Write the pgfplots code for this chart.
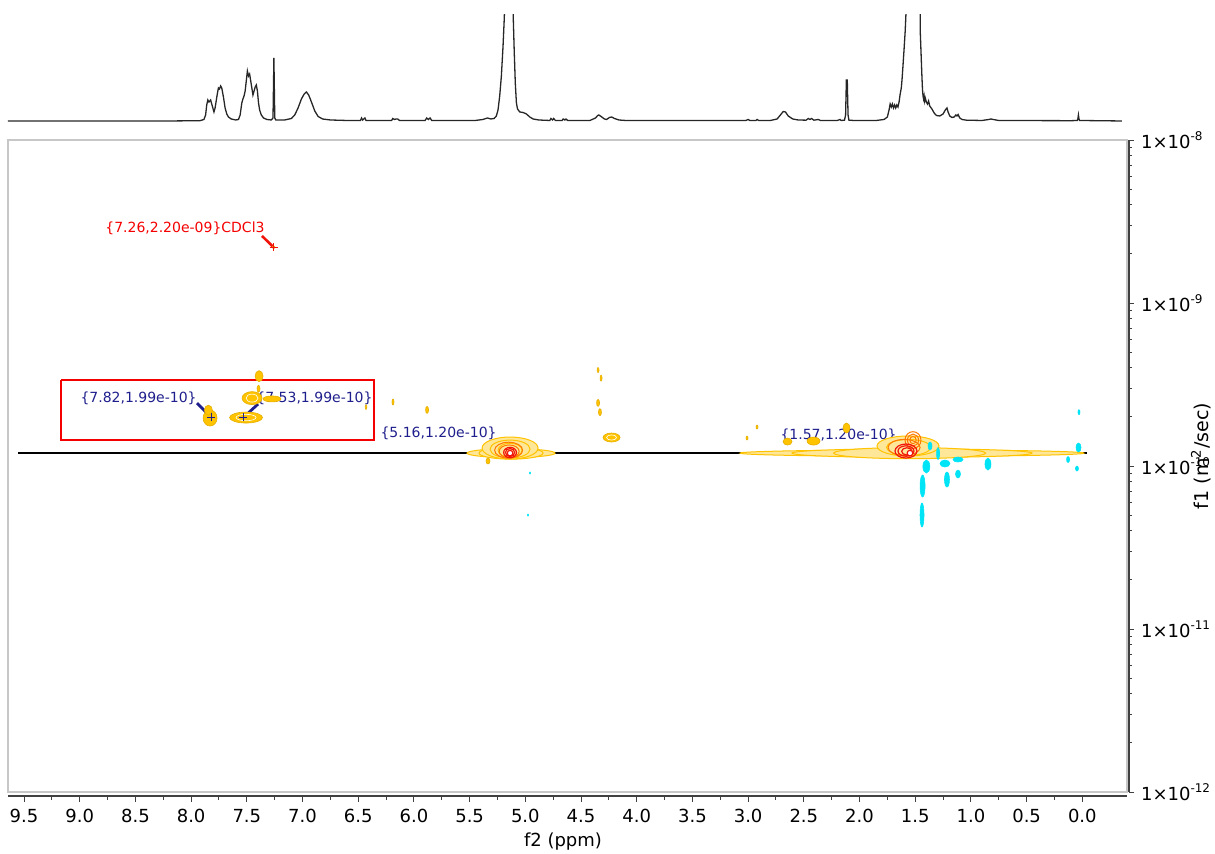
\documentclass[border=0pt]{standalone}
\usepackage{pgfplots}
\pgfplotsset{compat=1.18}
\usepackage{pgfplotstable}
\usepackage{fontspec}
\setmainfont{DejaVu Sans}
\definecolor{gold}{RGB}{255,195,0}
\definecolor{dorange}{RGB}{255,120,0}
\definecolor{dred}{RGB}{240,20,10}
\definecolor{aqua}{RGB}{0,228,245}
\definecolor{navyt}{RGB}{30,30,140}
\definecolor{boxred}{RGB}{245,0,0}

\pgfdeclareplotmark{ellf}{%
  \pgfpathellipse{\pgfpointorigin}{\pgfpoint{\myrx pt}{0pt}}{\pgfpoint{0pt}{\myry pt}}%
  \pgfusepathqfillstroke}
\pgfdeclareplotmark{ello}{%
  \pgfpathellipse{\pgfpointorigin}{\pgfpoint{\myrx pt}{0pt}}{\pgfpoint{0pt}{\myry pt}}%
  \pgfusepathqstroke}
\pgfplotsset{blob/.style={only marks, mark=ellf,
  visualization depends on={\thisrow{rx}\as\myrx},
  visualization depends on={\thisrow{ry}\as\myry}},
  ring/.style={only marks, mark=ello,
  visualization depends on={\thisrow{rx}\as\myrx},
  visualization depends on={\thisrow{ry}\as\myry}}}

% nested yellow contours (largest first)
\pgfplotstableread{
x y rx ry
1.529 1.2e-10 86 1.6
1.529 1.2e-10 60 2.2
1.55 1.2e-10 38 2.8
1.565 1.327e-10 15.5 5
1.56 1.30e-10 11 4
5.128 1.2e-10 22 2.2
5.128 1.2e-10 16 3
5.137 1.289e-10 14 5.5
5.137 1.27e-10 10 4.5
5.137 1.25e-10 6 3.5
}\goldnest

\pgfplotstableread{
x y rx ry
7.830 1.97e-10 3.5 4
7.845 2.20e-10 2 2.5
7.453 2.61e-10 5 3.25
7.274 2.58e-10 4.5 1.5
7.507 1.984e-10 8.25 2.75
7.39 3.56e-10 2 2.75
7.395 2.98e-10 0.75 1.75
6.188 2.47e-10 0.5 1.5
6.43 2.30e-10 0.4 1.2
5.882 2.21e-10 0.75 1.75
4.347 3.88e-10 0.5 1.25
4.32 3.46e-10 0.5 1.5
4.347 2.44e-10 0.75 1.75
4.33 2.14e-10 0.75 1.75
4.226 1.496e-10 4.25 2.25
2.646 1.413e-10 2.25 1.75
2.413 1.423e-10 3.25 2
2.117 1.711e-10 1.75 2.5
3.01 1.485e-10 0.5 1
2.92 1.735e-10 0.5 1
5.335 1.073e-10 1 1.5
7.26 2.2e-9 0.8 0.8
}\goldblobs

\pgfplotstableread{
x y rx ry
7.741 4.93e-10 1 2
7.741 4.93e-10 0.4 0.9
4.226 1.496e-10 2.5 1.3
7.507 1.984e-10 5 1.6
7.453 2.61e-10 3 2
}\goldrings

\pgfplotstableread{
x y rx ry
5.150 1.25e-10 7 4
5.145 1.23e-10 5 3.2
1.60 1.30e-10 8 4
1.52 1.443e-10 4 4.2
1.52 1.443e-10 2.8 3
1.52 1.443e-10 1.6 1.8
}\orangerings

\pgfplotstableread{
x y rx ry
5.137 1.21e-10 3.2 2.6
5.137 1.21e-10 2.3 2
1.583 1.236e-10 5.5 3.5
1.583 1.236e-10 4 2.6
1.575 1.23e-10 2.6 1.8
}\redrings

\pgfplotstableread{
x y rx ry
1.40 0.993e-10 1.75 3.25
1.434 7.54e-11 1.25 5.5
1.439 5.005e-11 1 6
1.233 1.036e-10 2.5 1.75
1.215 8.26e-11 1.25 3.75
1.116 8.93e-11 1.25 2
1.116 1.096e-10 2.5 1.25
0.847 1.028e-10 1.5 3
1.367 1.327e-10 1 2
1.295 1.193e-10 0.75 3
0.034 1.299e-10 1.25 2.25
0.03 2.14e-10 0.5 1.25
0.128 1.096e-10 0.75 1.5
0.048 0.965e-10 0.75 1.25
4.958 9.06e-11 0.35 0.5
4.976 5.0e-11 0.35 0.5
}\aquablobs

\begin{document}
\begin{tikzpicture}
\useasboundingbox (0,0) rectangle (607.5pt,427pt);
% ---------- 1D spectrum ----------
\begin{axis}[at={(4pt,364pt)}, anchor=south west, width=559.5pt, height=55.5pt,
  scale only axis, xmin=-0.401, xmax=9.644, x dir=reverse, ymin=-5, ymax=106, hide axis]
\addplot[black!85, line width=0.65pt] coordinates {
(9.644,0) (8.2,0) (7.92,0.3) (7.885,1.5) (7.87,6) (7.86,16) (7.85,21) (7.84,19) (7.825,21) (7.81,15) (7.795,9) (7.785,13) (7.775,20) (7.765,27) (7.755,33) (7.745,32) (7.735,35) (7.725,33) (7.71,24) (7.695,13) (7.68,7) (7.665,4) (7.64,2) (7.60,1) (7.575,1.5) (7.56,6) (7.545,18) (7.535,22) (7.525,25) (7.515,30) (7.505,40) (7.495,50) (7.485,45) (7.475,47) (7.465,40) (7.455,33) (7.445,26) (7.435,30) (7.425,34) (7.415,36) (7.405,30) (7.395,18) (7.385,11) (7.37,6) (7.35,3) (7.32,1.5) (7.28,1) (7.265,3) (7.26,40) (7.257,63) (7.254,40) (7.249,3) (7.24,1) (7.16,1) (7.10,2.5) (7.07,6) (7.04,13) (7.01,22) (6.985,27) (6.965,29) (6.945,26) (6.92,19) (6.89,10) (6.86,4.5) (6.82,2) (6.75,1) (6.6,0.5) (6.48,0.5) (6.47,3) (6.46,1) (6.44,3) (6.43,0.5) (6.20,0.5) (6.19,2.5) (6.175,1.5) (6.16,2) (6.145,2) (6.13,0.5) (5.90,0.5) (5.885,3) (5.87,1.5) (5.855,3) (5.84,0.5) (5.45,0.5) (5.38,1.5) (5.34,3) (5.31,2) (5.28,2.5) (5.26,5) (5.245,11) (5.23,25) (5.215,45) (5.20,75) (5.19,100) (5.18,130) (5.17,300) (5.12,300) (5.11,110) (5.10,71) (5.09,38) (5.08,18) (5.07,12) (5.05,9) (5.02,8.5) (4.99,7) (4.96,4) (4.93,2) (4.88,1) (4.78,0.5) (4.77,2.5) (4.755,1) (4.745,2.5) (4.73,0.5) (4.67,0.5) (4.66,2) (4.645,1) (4.635,2) (4.62,0.5) (4.42,0.5) (4.37,3) (4.35,5.5) (4.34,6) (4.32,4.5) (4.29,2) (4.27,1.5) (4.245,3.5) (4.225,4) (4.2,2.5) (4.16,1) (4.1,0.5) (3.2,0.5) (3.02,0.5) (3.0,1.5) (2.985,0.5) (2.93,0.5) (2.92,1.5) (2.905,0.5) (2.80,0.5) (2.74,2) (2.71,6) (2.685,9.5) (2.665,9) (2.64,5) (2.60,2) (2.55,1) (2.48,0.8) (2.46,2.5) (2.445,1.5) (2.43,2.5) (2.41,0.8) (2.37,1.5) (2.35,0.5) (2.20,0.5) (2.175,1.5) (2.165,0.5) (2.135,0.8) (2.125,6) (2.118,41) (2.11,41) (2.103,6) (2.095,0.8) (2.05,0.5) (1.85,0.5) (1.78,1.5) (1.75,4) (1.735,11) (1.725,17) (1.715,14) (1.705,17) (1.695,13) (1.685,16) (1.675,13) (1.665,16) (1.655,14) (1.645,19) (1.635,27) (1.625,33) (1.618,42) (1.61,55) (1.60,72) (1.59,90) (1.58,115) (1.572,300) (1.462,300) (1.455,90) (1.45,75) (1.445,60) (1.44,45) (1.435,32) (1.43,25) (1.425,22) (1.42,25) (1.415,20) (1.41,23) (1.40,19) (1.39,17) (1.38,20) (1.37,15) (1.35,12) (1.33,8) (1.31,5.5) (1.28,5) (1.25,7) (1.23,11) (1.215,13) (1.205,9) (1.19,5) (1.17,3.5) (1.15,4) (1.135,6) (1.125,5) (1.115,6.5) (1.10,3) (1.08,1.5) (1.04,0.8) (0.9,0.5) (0.84,1.5) (0.82,2) (0.80,1.5) (0.75,0.5) (0.1,0.3) (0.045,0.5) (0.04,2) (0.035,6) (0.03,2) (0.025,0.5) (-0.355,0)
};
\end{axis}
% ---------- 2D DOSY area ----------
\begin{axis}[at={(4pt,31pt)}, anchor=south west, width=559.5pt, height=326pt,
  scale only axis, xmin=-0.401, xmax=9.644, x dir=reverse,
  ymode=log, ymin=1e-12, ymax=1e-8, ticks=none,
  axis line style={black!22, line width=0.6pt}]
\addplot[blob, mark options={fill=gold!40, draw=gold, line width=0.5pt}] table {\goldnest};
\addplot[blob, mark options={fill=gold, draw=gold!90!black, line width=0.3pt}] table {\goldblobs};
\addplot[ring, mark options={draw=white, line width=0.3pt}] table {\goldrings};
\addplot[ring, mark options={draw=dorange, line width=0.5pt}] table {\orangerings};
\addplot[ring, mark options={draw=dred, line width=0.6pt}] table {\redrings};
\addplot[blob, mark options={fill=aqua, draw=aqua, line width=0.3pt}] table {\aquablobs};
% horizontal diffusion line
\addplot[black, line width=0.8pt] coordinates {(9.554,1.2e-10) (-0.04,1.2e-10)};
% peak markers
\addplot[only marks, mark=*, mark size=1.4pt, mark options={fill=white, draw=dred, line width=0.6pt}] coordinates {(5.137,1.2e-10) (1.547,1.2e-10)};
\addplot[navyt, line width=1.4pt] coordinates {(7.947,2.43e-10) (7.82,1.99e-10)};
\addplot[navyt, line width=1.4pt] coordinates {(7.399,2.40e-10) (7.53,1.99e-10)};
\addplot[navyt, line width=1.4pt] coordinates {(5.254,1.443e-10) (5.16,1.2e-10)};
\addplot[navyt, line width=1.4pt] coordinates {(1.663,1.443e-10) (1.57,1.2e-10)};
\addplot[only marks, mark=+, mark size=2pt, navyt, line width=0.6pt] coordinates {(7.82,1.99e-10) (7.53,1.99e-10)};
\addplot[dred, line width=1.3pt] coordinates {(7.364,2.58e-9) (7.26,2.2e-9)};
\addplot[only marks, mark=+, mark size=2pt, dred, line width=0.6pt] coordinates {(7.26,2.2e-9)};
% red box
\addplot[boxred, line width=1pt] coordinates {(9.168,3.37e-10) (6.358,3.37e-10) (6.358,1.44e-10) (9.168,1.44e-10) (9.168,3.37e-10)};
% labels
\node[navyt, anchor=east, inner sep=0pt, font=\fontsize{7}{8}\selectfont] at (axis cs:7.947,2.61e-10) {\{7.82,1.99e-10\}};
\node[navyt, anchor=west, inner sep=0pt, font=\fontsize{7}{8}\selectfont] at (axis cs:7.417,2.61e-10) {\{7.53,1.99e-10\}};
\node[navyt, anchor=east, inner sep=0pt, font=\fontsize{7}{8}\selectfont] at (axis cs:5.254,1.594e-10) {\{5.16,1.20e-10\}};
\node[navyt, anchor=east, inner sep=0pt, font=\fontsize{7}{8}\selectfont] at (axis cs:1.663,1.549e-10) {\{1.57,1.20e-10\}};
\node[boxred, anchor=east, inner sep=0pt, font=\fontsize{7}{8}\selectfont] at (axis cs:7.337,2.88e-9) {\{7.26,2.20e-09\}CDCl3};
\end{axis}
% ---------- bottom ppm axis ----------
\begin{axis}[at={(4pt,29pt)}, anchor=south west, width=559.5pt, height=326pt,
  scale only axis, xmin=-0.401, xmax=9.644, x dir=reverse, ymin=0, ymax=1,
  axis x line=bottom, axis y line=none,
  axis line style={-, black!75, line width=0.8pt},
  xtick={0,0.5,1,1.5,2,2.5,3,3.5,4,4.5,5,5.5,6,6.5,7,7.5,8,8.5,9,9.5},
  xticklabels={0.0,0.5,1.0,1.5,2.0,2.5,3.0,3.5,4.0,4.5,5.0,5.5,6.0,6.5,7.0,7.5,8.0,8.5,9.0,9.5},
  minor x tick num=1, tick align=outside,
  major tick length=3pt, minor tick length=2pt,
  tick style={black!75, line width=0.5pt},
  tick label style={font=\fontsize{9}{10}\selectfont}]
\addplot[draw=none] coordinates {(1,0.5)};
\end{axis}
% ---------- right diffusion axis ----------
\begin{axis}[at={(5pt,31pt)}, anchor=south west, width=559.5pt, height=326pt,
  scale only axis, xmin=0, xmax=1, ymode=log, ymin=1e-12, ymax=1e-8,
  axis y line=right, axis x line=none,
  axis line style={-, black!75, line width=0.8pt},
  ytick={1e-12,1e-11,1e-10,1e-9,1e-8},
  yticklabels={1×10\textsuperscript{-12},1×10\textsuperscript{-11},1×10\textsuperscript{-10},1×10\textsuperscript{-9},1×10\textsuperscript{-8}},
  minor ytick={2e-12,3e-12,4e-12,5e-12,6e-12,7e-12,8e-12,9e-12,2e-11,3e-11,4e-11,5e-11,6e-11,7e-11,8e-11,9e-11,2e-10,3e-10,4e-10,5e-10,6e-10,7e-10,8e-10,9e-10,2e-9,3e-9,4e-9,5e-9,6e-9,7e-9,8e-9,9e-9},
  tick align=outside, major tick length=2.5pt, minor tick length=1.5pt,
  tick style={black!75, line width=0.5pt},
  yticklabel style={font=\fontsize{9}{10}\selectfont, anchor=west}]
\addplot[draw=none] coordinates {(0.5,1e-10)};
\end{axis}
\node[font=\fontsize{9}{10}\selectfont] at (281.5pt,6pt) {f2 (ppm)};
\node[rotate=90, font=\fontsize{9.5}{10}\selectfont] at (600.5pt,199pt) {f1 (m\textsuperscript{2}/sec)};
\end{tikzpicture}
\end{document}
